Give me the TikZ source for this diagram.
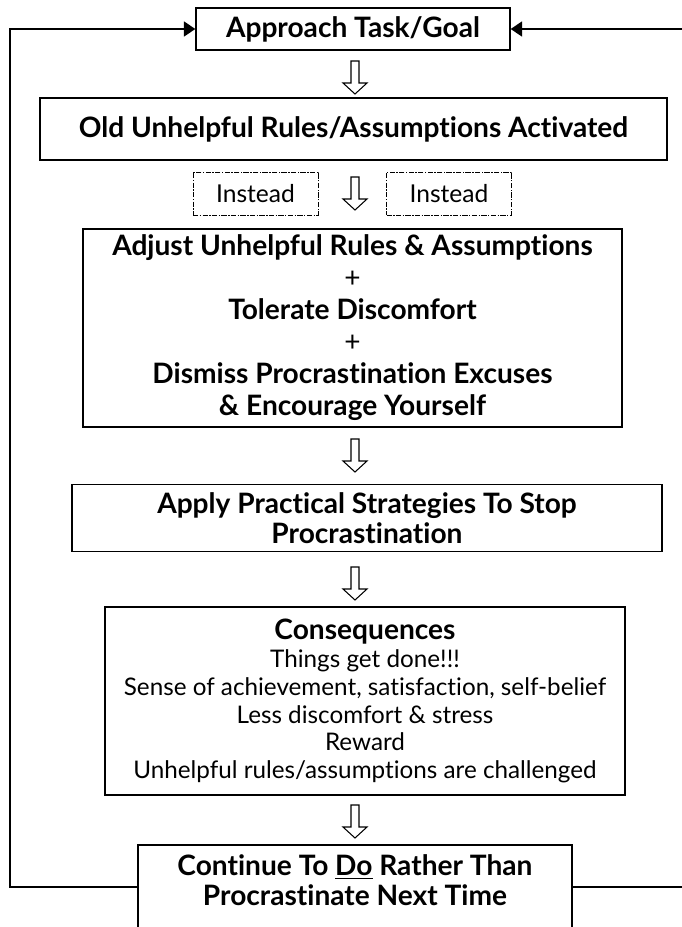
\documentclass[tikz,border=0pt]{standalone}
\usepackage{fontspec}
\setmainfont{Lato}[Ligatures=NoCommon]
\usetikzlibrary{arrows.meta,positioning}

\begin{document}
\begin{tikzpicture}[
  x=0.02cm,y=-0.02cm,
  box/.style={draw,line width=0.8pt,align=center,inner sep=0pt,font=\fontsize{16}{16.8}\selectfont\bfseries},
  plainbox/.style={draw,line width=0.8pt,align=center,inner sep=0pt,font=\fontsize{13.8}{15.9}\selectfont},
  insteadbox/.style={draw,line width=0.5pt,dash pattern=on 3pt off 0.8pt on 0.8pt off 0.8pt,minimum width=2.5cm,minimum height=0.86cm,font=\fontsize{14}{15}\selectfont},
  loop/.style={-{Triangle[length=6.5pt,width=8.5pt]},line width=1.1pt},
  hollow/.pic={\draw[line width=0.6pt,fill=white] (-4,-16) -- (4,-16) -- (4,6) -- (12,6) -- (0,17) -- (-12,6) -- (-4,6) -- cycle;}
]
\useasboundingbox (0,0) rectangle (682,927);
\clip (0,0) rectangle (682,927);

\node[box,minimum width=6.28cm,minimum height=0.84cm] (goal) at (353,29) {Approach Task/Goal};
\pic at (355,77) {hollow};
\node[box,minimum width=12.54cm,minimum height=1.24cm] (rules) at (353.5,129) {Old Unhelpful Rules/Assumptions Activated};

\node[insteadbox] (instL) at (255.5,193.5) {Instead};
\pic at (355,193) {hollow};
\node[insteadbox] (instR) at (449,193.5) {Instead};

\node[box,minimum width=10.78cm,minimum height=3.96cm,font=\fontsize{16}{18.2}\selectfont\bfseries] (adjust) at (352.5,328)
  {Adjust Unhelpful Rules \& Assumptions\\{\mdseries +}\\Tolerate Discomfort\\{\mdseries +}\\Dismiss Procrastination Excuses\\\& Encourage Yourself};
\pic at (355,455) {hollow};
\node[box,minimum width=11.8cm,minimum height=1.34cm] (apply) at (367,518)
  {Apply Practical Strategies To Stop\\Procrastination};
\pic at (355,583) {hollow};
\node[plainbox,minimum width=10.4cm,minimum height=3.76cm] (conseq) at (365,701)
  {\textbf{\fontsize{16}{15.9}\selectfont Consequences}\\Things get done!!!\\Sense of achievement, satisfaction, self-belief\\Less discomfort \& stress\\Reward\\Unhelpful rules/assumptions are challenged};
\pic at (355,821) {hollow};
\node[box,minimum width=8.68cm,minimum height=1.68cm] (cont) at (355,887) {};
\node[font=\fontsize{16}{16.8}\selectfont\bfseries,align=center,inner sep=0pt] (conttext) at (355,880)
  {Continue To \underline{Do} Rather Than\\Procrastinate Next Time};

% loop back to the start
\coordinate (lefttop) at (10,29);
\coordinate (righttop) at (700,29);
\draw[loop] (cont.west) -| (lefttop) -- (goal.west);
\draw[loop] (cont.east) -| (righttop) -- (goal.east);
\end{tikzpicture}
\end{document}
